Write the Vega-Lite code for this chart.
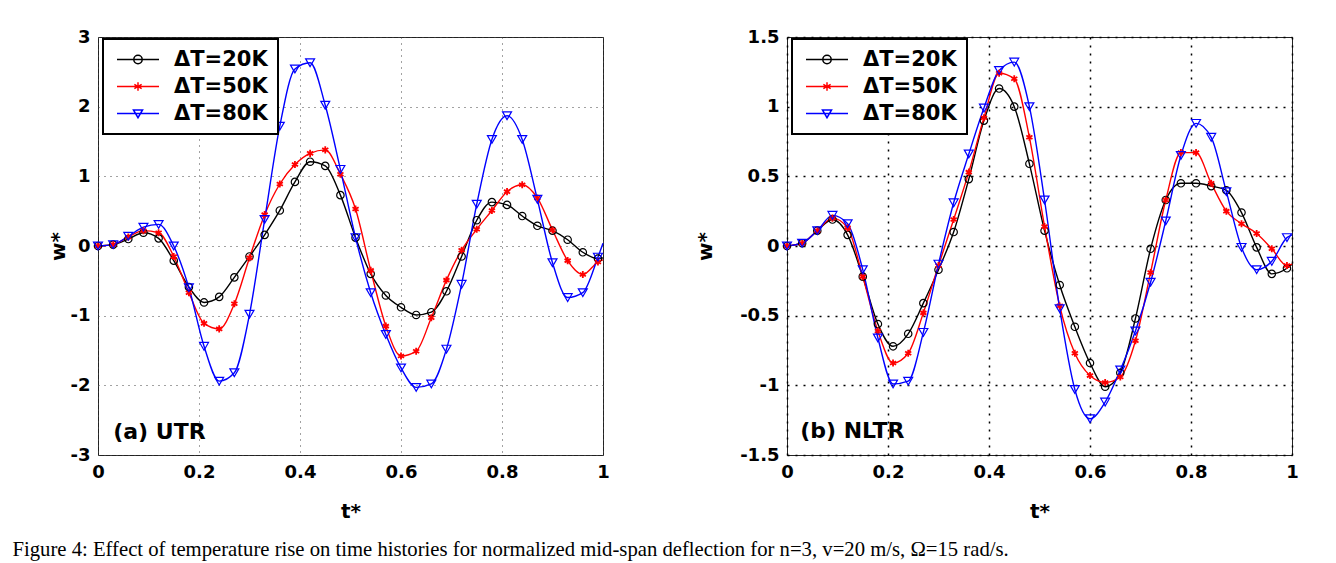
{
 "$schema": "https://vega.github.io/schema/vega-lite/v6.json",
 "padding": {"left": 12, "top": 27, "right": 5, "bottom": 5},
 "background": "white",
 "datasets": {
  "utr": [
   {"t":0,"w":0,"s":"ΔT=20K"},{"t":0.03,"w":0.02,"s":"ΔT=20K"},{"t":0.06,"w":0.10,"s":"ΔT=20K"},{"t":0.09,"w":0.19,"s":"ΔT=20K"},{"t":0.12,"w":0.11,"s":"ΔT=20K"},{"t":0.15,"w":-0.21,"s":"ΔT=20K"},{"t":0.18,"w":-0.59,"s":"ΔT=20K"},{"t":0.21,"w":-0.81,"s":"ΔT=20K"},{"t":0.24,"w":-0.73,"s":"ΔT=20K"},{"t":0.27,"w":-0.45,"s":"ΔT=20K"},{"t":0.3,"w":-0.15,"s":"ΔT=20K"},{"t":0.33,"w":0.16,"s":"ΔT=20K"},{"t":0.36,"w":0.51,"s":"ΔT=20K"},{"t":0.39,"w":0.92,"s":"ΔT=20K"},{"t":0.42,"w":1.21,"s":"ΔT=20K"},{"t":0.45,"w":1.15,"s":"ΔT=20K"},{"t":0.48,"w":0.73,"s":"ΔT=20K"},{"t":0.51,"w":0.12,"s":"ΔT=20K"},{"t":0.54,"w":-0.40,"s":"ΔT=20K"},{"t":0.57,"w":-0.71,"s":"ΔT=20K"},{"t":0.6,"w":-0.88,"s":"ΔT=20K"},{"t":0.63,"w":-0.99,"s":"ΔT=20K"},{"t":0.66,"w":-0.95,"s":"ΔT=20K"},{"t":0.69,"w":-0.65,"s":"ΔT=20K"},{"t":0.72,"w":-0.15,"s":"ΔT=20K"},{"t":0.75,"w":0.37,"s":"ΔT=20K"},{"t":0.78,"w":0.63,"s":"ΔT=20K"},{"t":0.81,"w":0.59,"s":"ΔT=20K"},{"t":0.84,"w":0.43,"s":"ΔT=20K"},{"t":0.87,"w":0.29,"s":"ΔT=20K"},{"t":0.9,"w":0.22,"s":"ΔT=20K"},{"t":0.93,"w":0.09,"s":"ΔT=20K"},{"t":0.96,"w":-0.09,"s":"ΔT=20K"},{"t":0.99,"w":-0.18,"s":"ΔT=20K"},{"t":1,"w":-0.17,"s":"ΔT=20K"},
   {"t":0,"w":0,"s":"ΔT=50K"},{"t":0.03,"w":0.02,"s":"ΔT=50K"},{"t":0.06,"w":0.13,"s":"ΔT=50K"},{"t":0.09,"w":0.22,"s":"ΔT=50K"},{"t":0.12,"w":0.19,"s":"ΔT=50K"},{"t":0.15,"w":-0.15,"s":"ΔT=50K"},{"t":0.18,"w":-0.67,"s":"ΔT=50K"},{"t":0.21,"w":-1.11,"s":"ΔT=50K"},{"t":0.24,"w":-1.19,"s":"ΔT=50K"},{"t":0.27,"w":-0.83,"s":"ΔT=50K"},{"t":0.3,"w":-0.17,"s":"ΔT=50K"},{"t":0.33,"w":0.45,"s":"ΔT=50K"},{"t":0.36,"w":0.89,"s":"ΔT=50K"},{"t":0.39,"w":1.17,"s":"ΔT=50K"},{"t":0.42,"w":1.33,"s":"ΔT=50K"},{"t":0.45,"w":1.38,"s":"ΔT=50K"},{"t":0.48,"w":1.03,"s":"ΔT=50K"},{"t":0.51,"w":0.53,"s":"ΔT=50K"},{"t":0.54,"w":-0.35,"s":"ΔT=50K"},{"t":0.57,"w":-1.15,"s":"ΔT=50K"},{"t":0.6,"w":-1.58,"s":"ΔT=50K"},{"t":0.63,"w":-1.51,"s":"ΔT=50K"},{"t":0.66,"w":-1.03,"s":"ΔT=50K"},{"t":0.69,"w":-0.49,"s":"ΔT=50K"},{"t":0.72,"w":-0.06,"s":"ΔT=50K"},{"t":0.75,"w":0.24,"s":"ΔT=50K"},{"t":0.78,"w":0.51,"s":"ΔT=50K"},{"t":0.81,"w":0.78,"s":"ΔT=50K"},{"t":0.84,"w":0.88,"s":"ΔT=50K"},{"t":0.87,"w":0.69,"s":"ΔT=50K"},{"t":0.9,"w":0.23,"s":"ΔT=50K"},{"t":0.93,"w":-0.21,"s":"ΔT=50K"},{"t":0.96,"w":-0.41,"s":"ΔT=50K"},{"t":0.99,"w":-0.23,"s":"ΔT=50K"},{"t":1,"w":-0.2,"s":"ΔT=50K"},
   {"t":0,"w":0,"s":"ΔT=80K"},{"t":0.03,"w":0.02,"s":"ΔT=80K"},{"t":0.06,"w":0.14,"s":"ΔT=80K"},{"t":0.09,"w":0.27,"s":"ΔT=80K"},{"t":0.12,"w":0.31,"s":"ΔT=80K"},{"t":0.15,"w":0.0,"s":"ΔT=80K"},{"t":0.18,"w":-0.60,"s":"ΔT=80K"},{"t":0.21,"w":-1.44,"s":"ΔT=80K"},{"t":0.24,"w":-1.94,"s":"ΔT=80K"},{"t":0.27,"w":-1.82,"s":"ΔT=80K"},{"t":0.3,"w":-0.98,"s":"ΔT=80K"},{"t":0.33,"w":0.38,"s":"ΔT=80K"},{"t":0.36,"w":1.72,"s":"ΔT=80K"},{"t":0.39,"w":2.54,"s":"ΔT=80K"},{"t":0.42,"w":2.63,"s":"ΔT=80K"},{"t":0.45,"w":2.02,"s":"ΔT=80K"},{"t":0.48,"w":1.10,"s":"ΔT=80K"},{"t":0.51,"w":0.12,"s":"ΔT=80K"},{"t":0.54,"w":-0.67,"s":"ΔT=80K"},{"t":0.57,"w":-1.27,"s":"ΔT=80K"},{"t":0.6,"w":-1.75,"s":"ΔT=80K"},{"t":0.63,"w":-2.03,"s":"ΔT=80K"},{"t":0.66,"w":-1.98,"s":"ΔT=80K"},{"t":0.69,"w":-1.48,"s":"ΔT=80K"},{"t":0.72,"w":-0.55,"s":"ΔT=80K"},{"t":0.75,"w":0.60,"s":"ΔT=80K"},{"t":0.78,"w":1.53,"s":"ΔT=80K"},{"t":0.81,"w":1.87,"s":"ΔT=80K"},{"t":0.84,"w":1.53,"s":"ΔT=80K"},{"t":0.87,"w":0.67,"s":"ΔT=80K"},{"t":0.9,"w":-0.24,"s":"ΔT=80K"},{"t":0.93,"w":-0.74,"s":"ΔT=80K"},{"t":0.96,"w":-0.67,"s":"ΔT=80K"},{"t":0.99,"w":-0.16,"s":"ΔT=80K"},{"t":1,"w":0.04,"s":"ΔT=80K"}
  ],
  "nltr": [
   {"t":0,"w":0,"s":"ΔT=20K"},{"t":0.03,"w":0.02,"s":"ΔT=20K"},{"t":0.06,"w":0.11,"s":"ΔT=20K"},{"t":0.09,"w":0.19,"s":"ΔT=20K"},{"t":0.12,"w":0.08,"s":"ΔT=20K"},{"t":0.15,"w":-0.22,"s":"ΔT=20K"},{"t":0.18,"w":-0.56,"s":"ΔT=20K"},{"t":0.21,"w":-0.72,"s":"ΔT=20K"},{"t":0.24,"w":-0.63,"s":"ΔT=20K"},{"t":0.27,"w":-0.41,"s":"ΔT=20K"},{"t":0.3,"w":-0.17,"s":"ΔT=20K"},{"t":0.33,"w":0.10,"s":"ΔT=20K"},{"t":0.36,"w":0.48,"s":"ΔT=20K"},{"t":0.39,"w":0.90,"s":"ΔT=20K"},{"t":0.42,"w":1.13,"s":"ΔT=20K"},{"t":0.45,"w":1.00,"s":"ΔT=20K"},{"t":0.48,"w":0.59,"s":"ΔT=20K"},{"t":0.51,"w":0.11,"s":"ΔT=20K"},{"t":0.54,"w":-0.28,"s":"ΔT=20K"},{"t":0.57,"w":-0.58,"s":"ΔT=20K"},{"t":0.6,"w":-0.84,"s":"ΔT=20K"},{"t":0.63,"w":-1.01,"s":"ΔT=20K"},{"t":0.66,"w":-0.91,"s":"ΔT=20K"},{"t":0.69,"w":-0.52,"s":"ΔT=20K"},{"t":0.72,"w":-0.02,"s":"ΔT=20K"},{"t":0.75,"w":0.33,"s":"ΔT=20K"},{"t":0.78,"w":0.45,"s":"ΔT=20K"},{"t":0.81,"w":0.45,"s":"ΔT=20K"},{"t":0.84,"w":0.43,"s":"ΔT=20K"},{"t":0.87,"w":0.40,"s":"ΔT=20K"},{"t":0.9,"w":0.24,"s":"ΔT=20K"},{"t":0.93,"w":-0.01,"s":"ΔT=20K"},{"t":0.96,"w":-0.20,"s":"ΔT=20K"},{"t":0.99,"w":-0.16,"s":"ΔT=20K"},{"t":1,"w":-0.13,"s":"ΔT=20K"},
   {"t":0,"w":0,"s":"ΔT=50K"},{"t":0.03,"w":0.02,"s":"ΔT=50K"},{"t":0.06,"w":0.11,"s":"ΔT=50K"},{"t":0.09,"w":0.20,"s":"ΔT=50K"},{"t":0.12,"w":0.13,"s":"ΔT=50K"},{"t":0.15,"w":-0.22,"s":"ΔT=50K"},{"t":0.18,"w":-0.61,"s":"ΔT=50K"},{"t":0.21,"w":-0.84,"s":"ΔT=50K"},{"t":0.24,"w":-0.77,"s":"ΔT=50K"},{"t":0.27,"w":-0.48,"s":"ΔT=50K"},{"t":0.3,"w":-0.14,"s":"ΔT=50K"},{"t":0.33,"w":0.19,"s":"ΔT=50K"},{"t":0.36,"w":0.53,"s":"ΔT=50K"},{"t":0.39,"w":0.92,"s":"ΔT=50K"},{"t":0.42,"w":1.24,"s":"ΔT=50K"},{"t":0.45,"w":1.20,"s":"ΔT=50K"},{"t":0.48,"w":0.78,"s":"ΔT=50K"},{"t":0.51,"w":0.14,"s":"ΔT=50K"},{"t":0.54,"w":-0.43,"s":"ΔT=50K"},{"t":0.57,"w":-0.77,"s":"ΔT=50K"},{"t":0.6,"w":-0.93,"s":"ΔT=50K"},{"t":0.63,"w":-0.98,"s":"ΔT=50K"},{"t":0.66,"w":-0.94,"s":"ΔT=50K"},{"t":0.69,"w":-0.68,"s":"ΔT=50K"},{"t":0.72,"w":-0.19,"s":"ΔT=50K"},{"t":0.75,"w":0.33,"s":"ΔT=50K"},{"t":0.78,"w":0.67,"s":"ΔT=50K"},{"t":0.81,"w":0.67,"s":"ΔT=50K"},{"t":0.84,"w":0.45,"s":"ΔT=50K"},{"t":0.87,"w":0.25,"s":"ΔT=50K"},{"t":0.9,"w":0.16,"s":"ΔT=50K"},{"t":0.93,"w":0.09,"s":"ΔT=50K"},{"t":0.96,"w":-0.02,"s":"ΔT=50K"},{"t":0.99,"w":-0.14,"s":"ΔT=50K"},{"t":1,"w":-0.13,"s":"ΔT=50K"},
   {"t":0,"w":0,"s":"ΔT=80K"},{"t":0.03,"w":0.02,"s":"ΔT=80K"},{"t":0.06,"w":0.11,"s":"ΔT=80K"},{"t":0.09,"w":0.22,"s":"ΔT=80K"},{"t":0.12,"w":0.16,"s":"ΔT=80K"},{"t":0.15,"w":-0.17,"s":"ΔT=80K"},{"t":0.18,"w":-0.66,"s":"ΔT=80K"},{"t":0.21,"w":-0.99,"s":"ΔT=80K"},{"t":0.24,"w":-0.97,"s":"ΔT=80K"},{"t":0.27,"w":-0.62,"s":"ΔT=80K"},{"t":0.3,"w":-0.13,"s":"ΔT=80K"},{"t":0.33,"w":0.31,"s":"ΔT=80K"},{"t":0.36,"w":0.66,"s":"ΔT=80K"},{"t":0.39,"w":0.99,"s":"ΔT=80K"},{"t":0.42,"w":1.26,"s":"ΔT=80K"},{"t":0.45,"w":1.32,"s":"ΔT=80K"},{"t":0.48,"w":1.00,"s":"ΔT=80K"},{"t":0.51,"w":0.33,"s":"ΔT=80K"},{"t":0.54,"w":-0.45,"s":"ΔT=80K"},{"t":0.57,"w":-1.03,"s":"ΔT=80K"},{"t":0.6,"w":-1.24,"s":"ΔT=80K"},{"t":0.63,"w":-1.12,"s":"ΔT=80K"},{"t":0.66,"w":-0.89,"s":"ΔT=80K"},{"t":0.69,"w":-0.61,"s":"ΔT=80K"},{"t":0.72,"w":-0.26,"s":"ΔT=80K"},{"t":0.75,"w":0.18,"s":"ΔT=80K"},{"t":0.78,"w":0.65,"s":"ΔT=80K"},{"t":0.81,"w":0.88,"s":"ΔT=80K"},{"t":0.84,"w":0.78,"s":"ΔT=80K"},{"t":0.87,"w":0.39,"s":"ΔT=80K"},{"t":0.9,"w":-0.01,"s":"ΔT=80K"},{"t":0.93,"w":-0.17,"s":"ΔT=80K"},{"t":0.96,"w":-0.11,"s":"ΔT=80K"},{"t":0.99,"w":0.06,"s":"ΔT=80K"},{"t":1,"w":0.08,"s":"ΔT=80K"}
  ]
 },
 "title": {"text": "Figure 4: Effect of temperature rise on time histories for normalized mid-span deflection for n=3, v=20 m/s, Ω=15 rad/s.", "orient": "bottom", "anchor": "start", "font": "Liberation Serif", "fontSize": 20.7, "fontWeight": "normal", "color": "black", "offset": 18, "dx": -35},
 "spacing": 85,
 "hconcat": [
  {
   "width": 505, "height": 418,
   "data": {"name": "utr"},
   "layer": [
    {"mark": {"type": "line", "interpolate": "monotone", "strokeWidth": 1.4},
     "encoding": {
      "x": {"field": "t", "type": "quantitative", "scale": {"domain": [0, 1], "nice": false, "zero": false},
            "axis": {"values": [0, 0.2, 0.4, 0.6, 0.8, 1], "labelExpr": "'' + datum.value", "title": "t*", "titlePadding": 20, "labelPadding": 8, "labelFlush": false, "gridColor": "#444", "gridDash": [1, 5]}},
      "y": {"field": "w", "type": "quantitative", "scale": {"domain": [-3, 3], "nice": false, "zero": false},
            "axis": {"values": [-3, -2, -1, 0, 1, 2, 3], "labelExpr": "'' + datum.value", "title": "w*", "titlePadding": 2, "labelPadding": 8, "labelFlush": false, "gridColor": "#444", "gridDash": [1, 5]}},
      "color": {"field": "s", "type": "nominal", "scale": {"domain": ["ΔT=20K", "ΔT=50K", "ΔT=80K"], "range": ["#000000", "#ff0000", "#0000ff"]},
       "legend": {"orient": "none", "legendX": 5, "legendY": 2, "title": null, "symbolSize": 196, "symbolStrokeWidth": 1.5, "padding": 10, "rowPadding": 5, "strokeColor": "black", "fillColor": "white", "labelFontSize": 21, "labelFont": "DejaVu Sans", "labelFontWeight": "bold", "labelColor": "black", "labelLimit": 300,
         "encode": {"legend": {"update": {"strokeWidth": {"value": 2}}},
                    "labels": {"update": {"x": {"value": 61}}},
                    "symbols": {"update": {"x": {"value": 25}, "fill": {"value": "transparent"}, "strokeWidth": {"value": 1.5}, "shape": {"signal": "datum.value == 'ΔT=20K' ? 'M-3,0H3M0.6,0A0.6,0.6 0 1,1 -0.6,0A0.6,0.6 0 1,1 0.6,0' : datum.value == 'ΔT=50K' ? 'M-3,0H3M0,-0.6V0.6M-0.52,-0.3L0.52,0.3M-0.52,0.3L0.52,-0.3' : 'M-3,0H3M-0.65,-0.5H0.65L0,0.6Z'"}}}}}}}},
    {"transform": [{"filter": "datum.s == 'ΔT=20K' && datum.t < 0.995"}],
     "mark": {"type": "point", "shape": "circle", "filled": false, "size": 55, "strokeWidth": 1.2, "color": "#000000", "opacity": 1},
     "encoding": {"x": {"field": "t", "type": "quantitative"}, "y": {"field": "w", "type": "quantitative"}}},
    {"transform": [{"filter": "datum.s == 'ΔT=50K' && datum.t < 0.995"}],
     "mark": {"type": "point", "shape": "M0,-1V1M-0.87,-0.5L0.87,0.5M-0.87,0.5L0.87,-0.5", "filled": false, "size": 50, "strokeWidth": 1.8, "color": "#ff0000", "opacity": 1},
     "encoding": {"x": {"field": "t", "type": "quantitative"}, "y": {"field": "w", "type": "quantitative"}}},
    {"transform": [{"filter": "datum.s == 'ΔT=80K' && datum.t < 0.995"}],
     "mark": {"type": "point", "shape": "triangle-down", "filled": false, "size": 80, "strokeWidth": 1.2, "color": "#0000ff", "opacity": 1},
     "encoding": {"x": {"field": "t", "type": "quantitative"}, "y": {"field": "w", "type": "quantitative"}}},
    {"data": {"values": [{"label": "(a) UTR"}]},
     "mark": {"type": "text", "align": "left", "baseline": "middle", "font": "DejaVu Sans", "fontSize": 22, "fontWeight": "bold", "color": "black"},
     "encoding": {"x": {"datum": 0.03, "type": "quantitative"}, "y": {"datum": -2.67, "type": "quantitative"}, "text": {"field": "label", "type": "nominal"}}}
   ]
  },
  {
   "width": 505, "height": 418,
   "data": {"name": "nltr"},
   "layer": [
    {"mark": {"type": "line", "interpolate": "monotone", "strokeWidth": 1.4},
     "encoding": {
      "x": {"field": "t", "type": "quantitative", "scale": {"domain": [0, 1], "nice": false, "zero": false},
            "axis": {"values": [0, 0.2, 0.4, 0.6, 0.8, 1], "labelExpr": "'' + datum.value", "title": "t*", "titlePadding": 20, "labelPadding": 8, "labelFlush": false, "gridColor": "#000", "gridDash": [2, 6], "gridWidth": 1.5}},
      "y": {"field": "w", "type": "quantitative", "scale": {"domain": [-1.5, 1.5], "nice": false, "zero": false},
            "axis": {"values": [-1.5, -1, -0.5, 0, 0.5, 1, 1.5], "labelExpr": "'' + datum.value", "title": "w*", "titlePadding": 24, "labelPadding": 8, "labelFlush": false, "gridColor": "#000", "gridDash": [2, 6], "gridWidth": 1.5}},
      "color": {"field": "s", "type": "nominal", "scale": {"domain": ["ΔT=20K", "ΔT=50K", "ΔT=80K"], "range": ["#000000", "#ff0000", "#0000ff"]},
       "legend": {"orient": "none", "legendX": 5, "legendY": 2, "title": null, "symbolSize": 196, "symbolStrokeWidth": 1.5, "padding": 10, "rowPadding": 5, "strokeColor": "black", "fillColor": "white", "labelFontSize": 21, "labelFont": "DejaVu Sans", "labelFontWeight": "bold", "labelColor": "black", "labelLimit": 300,
         "encode": {"legend": {"update": {"strokeWidth": {"value": 2}}},
                    "labels": {"update": {"x": {"value": 61}}},
                    "symbols": {"update": {"x": {"value": 25}, "fill": {"value": "transparent"}, "strokeWidth": {"value": 1.5}, "shape": {"signal": "datum.value == 'ΔT=20K' ? 'M-3,0H3M0.6,0A0.6,0.6 0 1,1 -0.6,0A0.6,0.6 0 1,1 0.6,0' : datum.value == 'ΔT=50K' ? 'M-3,0H3M0,-0.6V0.6M-0.52,-0.3L0.52,0.3M-0.52,0.3L0.52,-0.3' : 'M-3,0H3M-0.65,-0.5H0.65L0,0.6Z'"}}}}}}}},
    {"transform": [{"filter": "datum.s == 'ΔT=20K' && datum.t < 0.995"}],
     "mark": {"type": "point", "shape": "circle", "filled": false, "size": 55, "strokeWidth": 1.2, "color": "#000000", "opacity": 1},
     "encoding": {"x": {"field": "t", "type": "quantitative"}, "y": {"field": "w", "type": "quantitative"}}},
    {"transform": [{"filter": "datum.s == 'ΔT=50K' && datum.t < 0.995"}],
     "mark": {"type": "point", "shape": "M0,-1V1M-0.87,-0.5L0.87,0.5M-0.87,0.5L0.87,-0.5", "filled": false, "size": 50, "strokeWidth": 1.8, "color": "#ff0000", "opacity": 1},
     "encoding": {"x": {"field": "t", "type": "quantitative"}, "y": {"field": "w", "type": "quantitative"}}},
    {"transform": [{"filter": "datum.s == 'ΔT=80K' && datum.t < 0.995"}],
     "mark": {"type": "point", "shape": "triangle-down", "filled": false, "size": 80, "strokeWidth": 1.2, "color": "#0000ff", "opacity": 1},
     "encoding": {"x": {"field": "t", "type": "quantitative"}, "y": {"field": "w", "type": "quantitative"}}},
    {"data": {"values": [{"label": "(b) NLTR"}]},
     "mark": {"type": "text", "align": "left", "baseline": "middle", "font": "DejaVu Sans", "fontSize": 22, "fontWeight": "bold", "color": "black"},
     "encoding": {"x": {"datum": 0.026, "type": "quantitative"}, "y": {"datum": -1.33, "type": "quantitative"}, "text": {"field": "label", "type": "nominal"}}}
   ]
  }
 ],
 "resolve": {"scale": {"color": "independent"}, "legend": {"color": "independent"}},
 "config": {
  "font": "DejaVu Sans",
  "view": {"stroke": "#222", "strokeWidth": 1},
  "axis": {"labelFont": "DejaVu Sans", "labelFontWeight": "bold", "labelFontSize": 18, "labelColor": "black", "labelOverlap": false,
           "titleFont": "DejaVu Sans", "titleFontWeight": "bold", "titleFontSize": 20, "titleColor": "black",
           "grid": true, "gridOpacity": 1, "domain": false, "ticks": false}
 }
}
